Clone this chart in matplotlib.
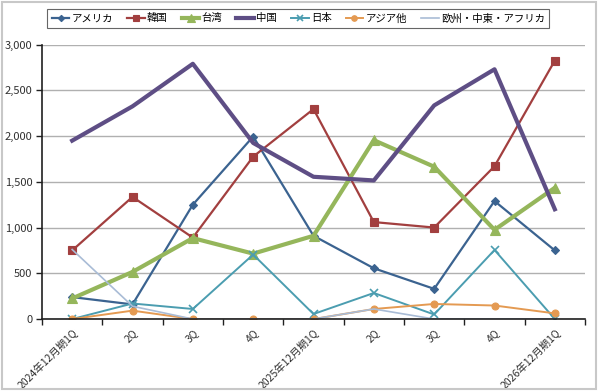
import matplotlib
matplotlib.use("Agg")
import matplotlib.pyplot as plt
from matplotlib.patches import Rectangle
from matplotlib.ticker import FuncFormatter, FixedLocator

plt.rcParams['font.family'] = ['Noto Sans CJK JP', 'DejaVu Sans']

categories = ["2024年12月期1Q", "2Q", "3Q", "4Q", "2025年12月期1Q", "2Q", "3Q", "4Q", "2026年12月期1Q"]

america = [240, 160, 1250, 1995, 910, 555, 330, 1290, 750]
korea = [750, 1335, 890, 1775, 2295, 1060, 1000, 1670, 2825]
taiwan = [225, 515, 885, 715, 910, 1955, 1665, 975, 1435]
china = [1950, 2325, 2790, 1925, 1555, 1515, 2335, 2730, 1200]
japan = [0, 170, 110, 705, 55, 285, 50, 755, 0]
asia_other = [0, 92, 0, 0, 0, 110, 165, 148, 62]
emea = [760, 140, 0, 0, 0, 110, 0, 0, 0]

series = [
    ("アメリカ", america, '#3B6390', 1.6, 'D', 4),
    ("韓国", korea, '#A23F3F', 1.6, 's', 5.5),
    ("台湾", taiwan, '#95B65B', 3.0, '^', 7),
    ("中国", china, '#5E4E85', 3.0, None, 0),
    ("日本", japan, '#4B9DB0', 1.4, 'x', 6),
    ("アジア他", asia_other, '#E49A52', 1.4, 'o', 5),
    ("欧州・中東・アフリカ", emea, '#A9BCD6', 1.2, None, 0),
]

fig = plt.figure(figsize=(6.0, 3.91), dpi=100)
ax = fig.add_axes([0.07, 0.184, 0.905, 0.702])

x = list(range(len(categories)))
handles = []
for name, vals, color, lw, marker, ms in series:
    h, = ax.plot(x, vals, color=color, lw=lw, marker=marker, ms=ms,
                 markeredgecolor=color, markerfacecolor=color,
                 markeredgewidth=1.2 if marker == 'x' else 0.8,
                 label=name, solid_joinstyle='round')
    handles.append(h)

ax.set_xlim(-0.5, len(categories) - 0.5)
ax.set_ylim(0, 3000)
ax.set_yticks(range(0, 3001, 500))
ax.yaxis.set_major_formatter(FuncFormatter(lambda v, p: f"{int(v):,}"))
ax.yaxis.grid(True, color='#B0B0B0', lw=1.0)
ax.set_axisbelow(True)

ax.set_xticks(x)
ax.set_xticklabels(categories, rotation=45, ha='right', va='top',
                   rotation_mode='anchor', fontsize=7.5, color='#303030')
ax.tick_params(axis='x', length=0, pad=6)
ax.xaxis.set_minor_locator(FixedLocator([i + 0.5 for i in range(-1, len(categories))]))
ax.tick_params(axis='x', which='minor', length=4, width=1, color='#202020', direction='out')
ax.tick_params(axis='y', length=4, width=1, color='#202020', labelsize=8, labelcolor='#303030', pad=3)

for s in ['top', 'right']:
    ax.spines[s].set_visible(False)
ax.spines['left'].set_color('#202020')
ax.spines['bottom'].set_color('#202020')
ax.spines['left'].set_linewidth(1.2)
ax.spines['bottom'].set_linewidth(1.2)

leg = fig.legend(handles=handles, loc='center', bbox_to_anchor=(0.497, 0.953),
                 ncol=7, fontsize=7.5, frameon=True, fancybox=False,
                 handlelength=1.7, handletextpad=0.2, columnspacing=1.35,
                 borderpad=0.45, markerscale=0.8)
leg.get_frame().set_edgecolor('#404040')
leg.get_frame().set_linewidth(0.8)

fig.patches.append(Rectangle((0.004, 0.006), 0.99, 0.99, transform=fig.transFigure,
                             fill=False, edgecolor='#C8C8C8', lw=1.5))

fig.savefig("out.png", dpi=100)
